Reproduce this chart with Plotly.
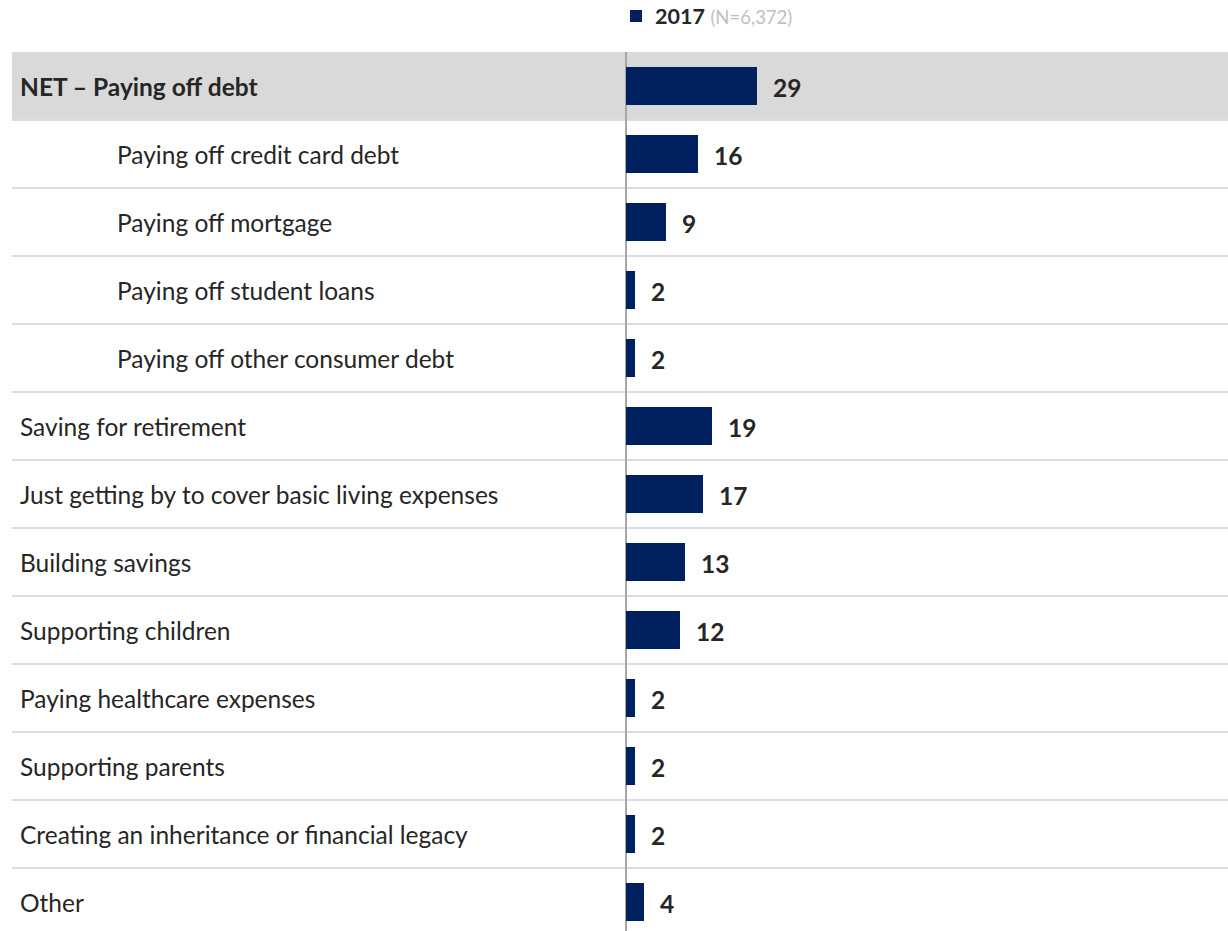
import plotly.graph_objects as go

categories = [
    "NET – Paying off debt",
    "Paying off credit card debt",
    "Paying off mortgage",
    "Paying off student loans",
    "Paying off other consumer debt",
    "Saving for retirement",
    "Just getting by to cover basic living expenses",
    "Building savings",
    "Supporting children",
    "Paying healthcare expenses",
    "Supporting parents",
    "Creating an inheritance or financial legacy",
    "Other",
]
indented = [False, True, True, True, True, False, False, False, False, False, False, False, False]
bold = [True] + [False] * 12
values_2017 = [29, 16, 9, 2, 2, 19, 17, 13, 12, 2, 2, 2, 4]
series_name = "2017"
sample_note = "(N=6,372)"

NAVY = "#002060"
TEXT = "#262626"
FONT = "Lato"

W, H = 1228, 931
L, R, T, B = 12, 0, 52, 0
PW = W - L - R
PH = H - T - B
px_per_unit = 4.55
zero_px = 625.5
xmin = -(zero_px - L) / px_per_unit
xmax = PW / px_per_unit + xmin
row_h = 68.0
ymax = -0.5 + PH / row_h


def pxx(px):
    return (px - L) / PW


def pxy(py):
    return (H - B - py) / PH


ypos = list(range(len(categories)))

fig = go.Figure()
fig.add_trace(go.Bar(
    x=values_2017, y=ypos, orientation="h",
    marker=dict(color=NAVY, line=dict(width=0)),
    width=0.56,
    showlegend=False, hoverinfo="skip",
))

shapes = [dict(type="rect", xref="paper", yref="y", x0=0, x1=1, y0=-0.5, y1=0.5,
               fillcolor="#D9D9D9", line=dict(width=0), layer="below")]
for k in range(len(categories) - 1):
    shapes.append(dict(type="line", xref="paper", yref="y", x0=0, x1=1, y0=k + 0.5, y1=k + 0.5,
                       line=dict(color="#DEDEDE", width=2), layer="below"))
# legend swatch
shapes.append(dict(type="rect", xref="paper", yref="paper", x0=pxx(630), x1=pxx(642),
                   y0=pxy(22), y1=pxy(10), fillcolor=NAVY, line=dict(width=0)))

annotations = []
for i, (c, ind, b) in enumerate(zip(categories, indented, bold)):
    xp = 115 if ind else 18
    annotations.append(dict(
        xref="paper", yref="y", x=pxx(xp), y=i,
        text=f"<b>{c}</b>" if b else c, showarrow=False, xanchor="left", yanchor="middle",
        font=dict(family=FONT, size=24.5, color=TEXT),
    ))
for i, v in enumerate(values_2017):
    annotations.append(dict(
        xref="x", yref="y", x=v, y=i, text=f"<b>{v}</b>", showarrow=False,
        xanchor="left", yanchor="middle", xshift=14, yshift=-1,
        font=dict(family=FONT, size=24.5, color=TEXT),
    ))
annotations.append(dict(
    xref="paper", yref="paper", x=pxx(653), y=pxy(16), showarrow=False,
    xanchor="left", yanchor="middle",
    text=f"<b>{series_name}</b> <span style='color:#BFBFBF;font-size:18.5px'>{sample_note}</span>",
    font=dict(family=FONT, size=21.5, color=TEXT),
))

fig.update_layout(
    width=W, height=H,
    margin=dict(l=L, r=R, t=T, b=B),
    plot_bgcolor="white", paper_bgcolor="white",
    bargap=0,
    shapes=shapes, annotations=annotations,
    xaxis=dict(range=[xmin, xmax], showgrid=False, showticklabels=False, ticks="",
               zeroline=True, zerolinecolor="#A6A6A6", zerolinewidth=2, fixedrange=True),
    yaxis=dict(range=[ymax, -0.5], showgrid=False, showticklabels=False, ticks="",
               zeroline=False, fixedrange=True),
    showlegend=False,
    font=dict(family=FONT),
)

fig.write_html("out.html", config={"displayModeBar": False},
               post_script="document.body.style.margin='0';document.body.style.overflow='hidden';")
